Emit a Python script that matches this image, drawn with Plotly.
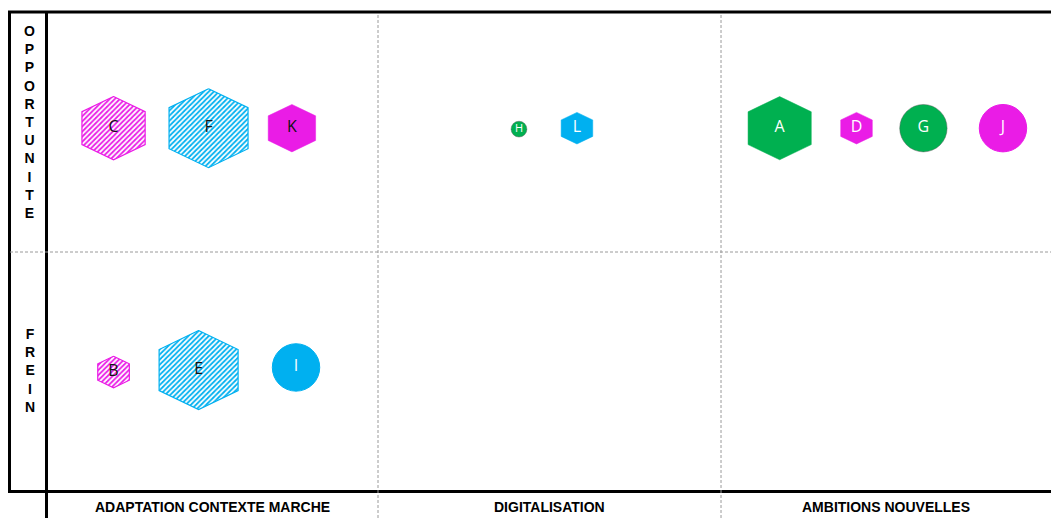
import plotly.graph_objects as go

# ---------------- data ----------------
columns = ["ADAPTATION CONTEXTE MARCHE", "DIGITALISATION", "AMBITIONS NOUVELLES"]
rows = ["FREIN", "OPPORTUNITE"]

labels = ["A", "B", "C", "D", "E", "F", "G", "H", "I", "J", "K", "L"]
x_pos = [2.171, 0.229, 0.229, 2.395, 0.477, 0.506, 2.590, 1.411, 0.761, 2.822, 0.749, 1.580]
y_pos = [1.517, 0.499, 1.517, 1.517, 0.507, 1.517, 1.517, 1.513, 0.518, 1.517, 1.517, 1.517]
sizes = [4, 2, 4, 2, 5, 5, 3, 1, 3, 3, 3, 2]
forms = ["hexagon", "hexagon", "hexagon", "hexagon", "hexagon", "hexagon",
         "circle", "circle", "circle", "circle", "hexagon", "hexagon"]
fills = ["solid", "hatched", "hatched", "solid", "hatched", "hatched",
         "solid", "solid", "solid", "solid", "solid", "solid"]
groups = ["green", "magenta", "magenta", "magenta", "cyan", "cyan",
          "green", "green", "cyan", "magenta", "magenta", "cyan"]

# ---------------- style ----------------
COLORS = {"green": "#00B050", "magenta": "#EA1CE6", "cyan": "#00B0F0"}
DARK_TEXT = {"B", "C", "E", "F", "K"}
FIG_W, FIG_H = 1051, 518
XR = (-0.102, 2.962)
YR = (-0.11065, 2.05219)
PX_X = FIG_W / (XR[1] - XR[0])
PX_Y = FIG_H / (YR[1] - YR[0])
SIZE_PX = 15.8          # pixels per size unit
HEX_SIDE = 0.52         # half vertical side relative to half height

fig = go.Figure()

# hexagons as filled polygons
for lab, x, y, s, f, fl, g in zip(labels, x_pos, y_pos, sizes, forms, fills, groups):
    if f != "hexagon":
        continue
    half = s * SIZE_PX / 2
    pts = [(0, half), (half, HEX_SIDE * half), (half, -HEX_SIDE * half),
           (0, -half), (-half, -HEX_SIDE * half), (-half, HEX_SIDE * half), (0, half)]
    xs = [x + px / PX_X for px, _ in pts]
    ys = [y + py / PX_Y for _, py in pts]
    col = COLORS[g]
    if fl == "hatched":
        fig.add_trace(go.Scatter(
            x=xs, y=ys, mode="lines", fill="toself", fillcolor="white",
            fillpattern=dict(shape="/", fgcolor=col, bgcolor="white", fgopacity=1,
                             size=3.6, solidity=0.5),
            line=dict(color=col, width=1.2), hoverinfo="skip", showlegend=False))
    else:
        fig.add_trace(go.Scatter(
            x=xs, y=ys, mode="lines", fill="toself", fillcolor=col,
            line=dict(color=col, width=0.5), hoverinfo="skip", showlegend=False))

# circles as markers
cx, cy, cs, cc, cl = [], [], [], [], []
for lab, x, y, s, f, g in zip(labels, x_pos, y_pos, sizes, forms, groups):
    if f == "circle":
        cx.append(x); cy.append(y); cs.append(s * SIZE_PX); cc.append(COLORS[g])
        cl.append("rgba(90,90,90,0.45)" if g == "green" else COLORS[g])
fig.add_trace(go.Scatter(
    x=cx, y=cy, mode="markers",
    marker=dict(symbol="circle", size=cs, color=cc, opacity=1,
                line=dict(color=cl, width=1)),
    hoverinfo="skip", showlegend=False))

# letters
fig.add_trace(go.Scatter(
    x=x_pos, y=y_pos, mode="text", text=labels,
    textposition="middle center",
    textfont=dict(family="Open Sans", size=[11 if s == 1 else 16 for s in sizes],
                  color=["#111111" if l in DARK_TEXT else "white" for l in labels]),
    hoverinfo="skip", showlegend=False))

# ---------------- frame ----------------
def px_x(p):
    return p / FIG_W

def px_y(p):
    return 1 - p / FIG_H

shapes = [
    dict(type="line", xref="paper", yref="paper", x0=px_x(8), x1=1, y0=px_y(12), y1=px_y(12),
         line=dict(color="black", width=3)),
    dict(type="line", xref="paper", yref="paper", x0=px_x(9.5), x1=px_x(9.5), y0=px_y(11), y1=px_y(492),
         line=dict(color="black", width=3)),
    dict(type="line", xref="paper", yref="paper", x0=px_x(46.5), x1=px_x(46.5), y0=px_y(11), y1=0,
         line=dict(color="black", width=3)),
    dict(type="line", xref="paper", yref="y", x0=px_x(8), x1=1, y0=0, y1=0,
         line=dict(color="black", width=3)),
    dict(type="line", xref="x", yref="paper", x0=1, x1=1, y0=px_y(15), y1=0,
         line=dict(color="#9a9a9a", width=1, dash="3px,2px")),
    dict(type="line", xref="x", yref="paper", x0=2, x1=2, y0=px_y(15), y1=0,
         line=dict(color="#9a9a9a", width=1, dash="3px,2px")),
    dict(type="line", xref="paper", yref="y", x0=px_x(10), x1=1, y0=1, y1=1,
         line=dict(color="#9a9a9a", width=1, dash="3px,2px")),
]

inner_x = 46.5 / PX_X + XR[0]
bounds = [inner_x, 1, 2, XR[1]]
annotations = []
for i, name in enumerate(columns):
    annotations.append(dict(
        x=(bounds[i] + bounds[i + 1]) / 2, xref="x", y=px_y(507), yref="paper",
        text=name, showarrow=False, xanchor="center", yanchor="middle",
        font=dict(family="Liberation Sans", size=14, color="black", weight="bold")))

row_centers_px = {"OPPORTUNITE": 122, "FREIN": 370.5}
for name in rows:
    annotations.append(dict(
        x=px_x(29.5), xref="paper", y=px_y(row_centers_px[name]), yref="paper",
        text="<br>".join(list(name)), showarrow=False, xanchor="center", yanchor="middle",
        font=dict(family="Liberation Sans", size=14, color="black", weight="bold")))

fig.update_layout(
    width=FIG_W, height=FIG_H,
    margin=dict(l=0, r=0, t=0, b=0),
    paper_bgcolor="white", plot_bgcolor="white",
    xaxis=dict(range=list(XR), visible=False, fixedrange=True),
    yaxis=dict(range=list(YR), visible=False, fixedrange=True),
    shapes=shapes, annotations=annotations,
    showlegend=False,
)

fig.write_html("out.html", config={"displayModeBar": False},
               post_script="document.body.style.margin='0';document.body.style.padding='0';")
